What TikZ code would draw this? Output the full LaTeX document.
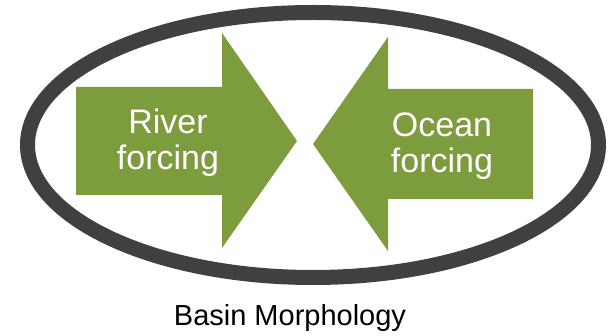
\documentclass[tikz,border=0pt]{standalone}
\usepackage{fontspec}
\setmainfont{Liberation Sans}
\definecolor{forcegreen}{HTML}{7D9C3E}
\definecolor{rimgray}{HTML}{404040}
\begin{document}
\begin{tikzpicture}[x=1pt,y=-1pt,
  forcearrow/.style={fill=forcegreen,draw=none},
  forcelabel/.style={text=white,align=center,inner sep=0pt,
    font=\fontsize{34}{36}\selectfont},
  rim/.style={draw=rimgray,line width=15pt}]
  \useasboundingbox (0,0) rectangle (614,336);
  % basin outline
  \draw[rim] (313,145) ellipse [x radius=285.5,y radius=132.5];
  % river arrow pointing right
  \fill[forcearrow] (76,87) -- (222,87) -- (222,33) -- (297,141)
    -- (222,248) -- (222,195) -- (76,195) -- cycle;
  % ocean arrow pointing left
  \fill[forcearrow] (533,89) -- (388,89) -- (388,37) -- (313,144)
    -- (388,251) -- (388,199) -- (533,199) -- cycle;
  \node[forcelabel] (river) at (168,143) {River\\forcing};
  \node[forcelabel] (ocean) at (442,146) {Ocean\\forcing};
  \node[anchor=base,inner sep=0pt,font=\fontsize{29}{33}\selectfont]
    (basin) at (290,326) {Basin Morphology};
\end{tikzpicture}
\end{document}
